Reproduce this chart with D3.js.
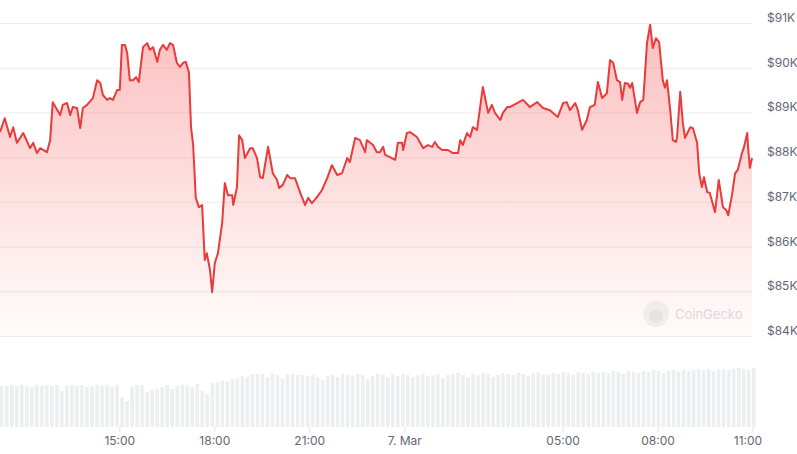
<!DOCTYPE html>
<html>
<head>
<meta charset="utf-8">
<script src="https://d3js.org/d3.v7.min.js"></script>
<style>
  body { margin: 0; background: #fff; }
  text { font-family: Inter, "Noto Sans", sans-serif; }
</style>
</head>
<body>
<div id="chart"></div>
<script>
// minutes since 6 Mar 00:00
var times = [673,682,692,698,705,717,730,736,743,749,762,768,773,787,792,800,806,811,819,825,830,838,849,857,863,868,876,881,887,895,900,904,910,914,919,925,931,936,944,952,957,963,971,976,982,989,995,1001,1008,1014,1020,1025,1031,1035,1039,1044,1050,1056,1061,1065,1071,1075,1080,1086,1094,1099,1105,1113,1115,1122,1126,1132,1137,1147,1152,1160,1166,1171,1181,1190,1198,1202,1209,1217,1223,1232,1242,1251,1257,1264,1274,1283,1293,1302,1312,1321,1331,1336,1346,1355,1365,1368,1380,1387,1393,1399,1403,1412,1422,1427,1435,1437,1444,1450,1463,1475,1484,1492,1497,1503,1511,1522,1531,1541,1545,1550,1558,1564,1569,1577,1588,1598,1605,1611,1621,1626,1634,1639,1653,1664,1677,1691,1702,1715,1730,1740,1747,1753,1763,1768,1776,1785,1791,1800,1806,1814,1823,1829,1835,1842,1848,1852,1857,1863,1867,1871,1880,1886,1892,1899,1905,1910,1916,1922,1929,1933,1937,1943,1948,1954,1956,1962,1967,1971,1981,1986,1994,1998,2003,2007,2013,2018,2028,2035,2043,2049,2053,2060,2066,2071,2079,2083,2089,2091,2094,2098];
// price in $K
var prices = [88.56,88.87,88.45,88.67,88.32,88.54,88.20,88.32,88.09,88.20,88.11,88.38,89.23,88.94,89.17,89.21,88.94,89.12,89.10,88.65,89.10,89.17,89.32,89.72,89.66,89.39,89.28,89.32,89.28,89.50,89.50,90.51,90.51,90.33,89.72,89.72,89.79,89.68,90.46,90.55,90.40,90.46,90.13,90.40,90.51,90.40,90.55,90.51,90.11,90.02,90.11,90.13,89.90,88.67,88.27,87.09,86.88,86.93,85.70,85.85,85.47,84.98,85.63,85.85,86.53,87.42,87.15,87.15,86.93,87.33,88.49,88.38,87.98,88.20,88.20,87.98,87.55,87.53,88.23,87.64,87.49,87.31,87.38,87.60,87.53,87.53,87.20,86.93,87.09,86.97,87.11,87.26,87.53,87.82,87.60,87.64,87.98,87.89,88.43,88.38,88.11,88.38,88.27,88.11,88.11,88.23,88.05,88.00,87.94,88.32,88.32,88.16,88.54,88.56,88.45,88.20,88.27,88.23,88.34,88.23,88.16,88.16,88.09,88.09,88.38,88.27,88.54,88.45,88.67,88.61,89.57,88.99,89.17,88.99,88.83,88.99,89.12,89.12,89.21,89.28,89.12,89.23,89.10,89.05,88.90,89.21,89.23,89.05,89.21,89.05,88.61,88.83,89.12,89.17,89.68,89.32,89.43,90.17,90.11,89.72,89.68,89.28,89.66,89.64,89.55,89.66,88.99,89.23,89.28,90.55,90.96,90.44,90.66,90.57,89.72,89.55,89.72,89.05,88.38,88.34,88.45,89.46,88.76,88.43,88.67,88.65,88.32,87.64,87.33,87.55,87.22,87.20,86.77,87.49,86.88,86.82,86.70,87.15,87.64,87.71,88.09,88.23,88.54,88.16,87.76,87.98];
// relative volume, one bar per ~9.5 minutes
var volumes = [41,41,42,41,42,41,40,42,41,42,41,42,36,41,42,41,42,40,41,42,41,42,40,42,
  30,26,40,42,
  42,35,37,38,40,42,38,41,42,41,40,43,
  36,33,44,45,46,46,48,49,
  51,50,53,53,53,50,53,52,48,53,53,52,
  52,51,52,50,47,51,52,50,53,52,51,53,52,48,51,53,52,50,53,51,
  53,52,50,52,53,51,52,53,49,52,53,54,52,50,53,52,54,53,50,52,
  54,53,52,54,53,51,54,55,53,52,54,53,55,54,52,55,54,53,55,54,
  55,54,56,55,53,56,55,54,56,55,57,56,54,56,57,55,57,56,57,58,
  57,58,56,57,58,57,58,59,58,57,59];
var priceTicks = [84,85,86,87,88,89,90,91];
var timeTicks = [900,1080,1260,1440,1740,1920,2100];
var timeLabels = ["15:00","18:00","21:00","7. Mar","05:00","08:00","11:00"];

var W = 797, H = 454, plotR = 752;
var svg = d3.select("#chart").append("svg").attr("width", W).attr("height", H);

var x = d3.scaleLinear().domain([673, 2098]).range([0, plotR]);
var y = d3.scaleLinear().domain([84, 91]).range([336, 23]);
var yv = d3.scaleLinear().domain([0, 60]).range([427, 367]);

var grad = svg.append("defs").append("linearGradient")
  .attr("id", "fillGrad").attr("x1", 0).attr("x2", 0).attr("y1", 0).attr("y2", 1);
grad.append("stop").attr("offset", "0%").attr("stop-color", "#f87171").attr("stop-opacity", 0.45);
grad.append("stop").attr("offset", "100%").attr("stop-color", "#f87171").attr("stop-opacity", 0.02);

// grid
svg.append("g").selectAll("line").data(priceTicks).enter().append("line")
  .attr("x1", 0).attr("x2", plotR)
  .attr("y1", function(d) { return y(d) + 0.5; }).attr("y2", function(d) { return y(d) + 0.5; })
  .attr("stroke", "#ececec");

svg.append("g").selectAll("text").data(priceTicks).enter().append("text")
  .attr("x", 767).attr("y", function(d) { return y(d) - 1; })
  .attr("font-size", 12).attr("fill", "#5f6672")
  .text(function(d) { return "$" + d + "K"; });

// volume bars
var step = (plotR) / (volumes.length - 1);
svg.append("g").selectAll("rect").data(volumes).enter().append("rect")
  .attr("x", function(d, i) { return i * step; })
  .attr("width", step * 0.7)
  .attr("y", function(d) { return yv(d); })
  .attr("height", function(d) { return yv(0) - yv(d); })
  .attr("fill", "#eceef1");

var pts = times.map(function(t, i) { return [t, prices[i]]; });

svg.append("path").datum(pts)
  .attr("fill", "url(#fillGrad)")
  .attr("d", d3.area().x(function(d) { return x(d[0]); })
    .y0(336).y1(function(d) { return y(d[1]); }));

svg.append("path").datum(pts)
  .attr("fill", "none").attr("stroke", "#ea3a3a").attr("stroke-width", 2)
  .attr("stroke-linejoin", "round")
  .attr("d", d3.line().x(function(d) { return x(d[0]); }).y(function(d) { return y(d[1]); }));

// watermark
var wm = svg.append("g").attr("opacity", 0.5);
wm.append("circle").attr("cx", 656).attr("cy", 314).attr("r", 13).attr("fill", "#e4e4e4");
wm.append("circle").attr("cx", 656).attr("cy", 316).attr("r", 7).attr("fill", "#cfcfcf");
wm.append("text").attr("x", 675).attr("y", 319).attr("font-size", 13)
  .attr("fill", "#b8b8b8").text("CoinGecko");

// x axis
var xa = svg.append("g");
xa.selectAll("line").data(timeTicks).enter().append("line")
  .attr("x1", function(d) { return x(d); }).attr("x2", function(d) { return x(d); })
  .attr("y1", 427).attr("y2", 432).attr("stroke", "#e2e2e2");
xa.selectAll("text").data(timeTicks).enter().append("text")
  .attr("x", function(d) { return Math.min(x(d), 748); }).attr("y", 445)
  .attr("text-anchor", "middle").attr("font-size", 12).attr("fill", "#5f6672")
  .text(function(d, i) { return timeLabels[i]; });
</script>
</body>
</html>
